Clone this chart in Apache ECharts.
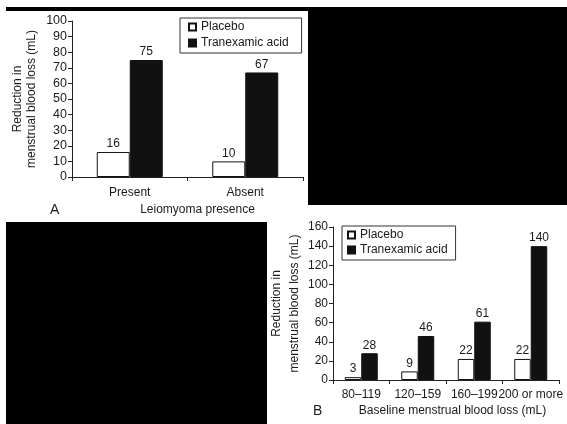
<!DOCTYPE html>
<html>
<head>
<meta charset="utf-8">
<script src="https://cdn.jsdelivr.net/npm/echarts@6/dist/echarts.min.js"></script>
<style>html,body{margin:0;padding:0;background:#fff}#c{width:567px;height:424px}</style>
</head>
<body>
<div id="c"></div>
<script>
// Panel A data
const catsA = ['Present', 'Absent'];
const placeboA = [16, 10];
const txaA = [75, 67];
const yMinA = 0, yMaxA = 100, yStepA = 10;
// Panel B data
const catsB = ['80–119', '120–159', '160–199', '200 or more'];
const placeboB = [3, 9, 22, 22];
const txaB = [28, 46, 61, 140];
const yMinB = 0, yMaxB = 160, yStepB = 20;
const seriesNames = ['Placebo', 'Tranexamic acid'];
const yName = 'Reduction in\nmenstrual blood loss (mL)';
const xNameA = 'Leiomyoma presence';
const xNameB = 'Baseline menstrual blood loss (mL)';

const FONT = 'Liberation Sans, Arial, sans-serif';
const TXT = '#1a1a1a';
const AX = '#222';

function xAxis(idx, cats, name, nameGap, padLeft, margin) {
  return {
    type: 'category', gridIndex: idx, data: cats,
    name: name, nameLocation: 'middle', nameGap: nameGap,
    nameTextStyle: { fontFamily: FONT, fontSize: 12, color: TXT, padding: [0, 0, 0, padLeft] },
    axisLine: { lineStyle: { color: AX, width: 1 } },
    axisTick: { show: true, length: 4, inside: false, lineStyle: { color: AX } },
    axisLabel: { fontFamily: FONT, fontSize: 12, color: TXT, margin: margin, interval: 0 },
    splitLine: { show: false }
  };
}
function yAxis(idx, min, max, step, nameGap, lh, fs) {
  return {
    type: 'value', gridIndex: idx, min: min, max: max, interval: step,
    name: yName, nameLocation: 'middle', nameGap: nameGap, nameRotate: 90,
    nameTextStyle: { fontFamily: FONT, fontSize: 12, color: TXT, lineHeight: lh, align: 'center' },
    axisLine: { show: true, lineStyle: { color: AX, width: 1 } },
    axisTick: { show: true, length: 4, inside: false, lineStyle: { color: AX } },
    axisLabel: { fontFamily: FONT, fontSize: fs, color: TXT, margin: 5 },
    splitLine: { show: false }
  };
}
const lbl = { show: true, position: 'top', distance: 2, fontFamily: FONT, fontSize: 12, color: TXT };
const stylePl = { color: '#ffffff', borderColor: '#111', borderWidth: 1 };
const styleTx = { color: '#111111', borderColor: '#111', borderWidth: 1 };

const chart = echarts.init(document.getElementById('c'), null, { renderer: 'canvas' });
chart.setOption({
  animation: false,
  backgroundColor: '#ffffff',
  grid: [
    { left: 72, right: 264, top: 21, bottom: 247 },
    { left: 333, right: 8, top: 227, bottom: 44 }
  ],
  xAxis: [
    xAxis(0, catsA, xNameA, 27, 20, 10),
    xAxis(1, catsB, xNameB, 25, 13, 9)
  ],
  yAxis: [
    yAxis(0, yMinA, yMaxA, yStepA, 33, 14, 12.5),
    yAxis(1, yMinB, yMaxB, yStepB, 28, 18, 12)
  ],
  legend: [
    { data: seriesNames, orient: 'vertical', left: 180, top: 18, icon: 'rect', itemWidth: 7, itemHeight: 7, itemGap: 4,
      padding: [3, 13, 4, 8], borderColor: '#333', borderWidth: 1, selectedMode: false,
      textStyle: { fontFamily: FONT, fontSize: 12, color: TXT } },
    { data: seriesNames, orient: 'vertical', left: 342, top: 226, icon: 'rect', itemWidth: 7, itemHeight: 7, itemGap: 3,
      padding: [3, 8, 4, 5], borderColor: '#333', borderWidth: 1, selectedMode: false,
      textStyle: { fontFamily: FONT, fontSize: 12, color: TXT } }
  ],
  series: [
    { name: seriesNames[0], type: 'bar', xAxisIndex: 0, yAxisIndex: 0, data: placeboA, barWidth: 33, barGap: '0%', itemStyle: stylePl, label: lbl },
    { name: seriesNames[1], type: 'bar', xAxisIndex: 0, yAxisIndex: 0, data: txaA, barWidth: 33, barGap: '0%', itemStyle: styleTx, label: lbl },
    { name: seriesNames[0], type: 'bar', xAxisIndex: 1, yAxisIndex: 1, data: placeboB, barWidth: 16.5, barGap: '0%', itemStyle: stylePl, label: lbl },
    { name: seriesNames[1], type: 'bar', xAxisIndex: 1, yAxisIndex: 1, data: txaB, barWidth: 16.5, barGap: '0%', itemStyle: styleTx, label: lbl }
  ],
  graphic: [
    { type: 'rect', shape: { x: 6, y: 7, width: 302, height: 4 }, style: { fill: '#000' }, z: 100 },
    { type: 'rect', shape: { x: 308, y: 7, width: 259, height: 198 }, style: { fill: '#000' }, z: 100 },
    { type: 'rect', shape: { x: 6, y: 222, width: 261, height: 202 }, style: { fill: '#000' }, z: 100 },
    { type: 'text', left: 50, top: 203, style: { text: 'A', font: '14px ' + FONT, fill: TXT } },
    { type: 'text', left: 313, top: 404, style: { text: 'B', font: '14px ' + FONT, fill: TXT } }
  ]
});
</script>
</body>
</html>
